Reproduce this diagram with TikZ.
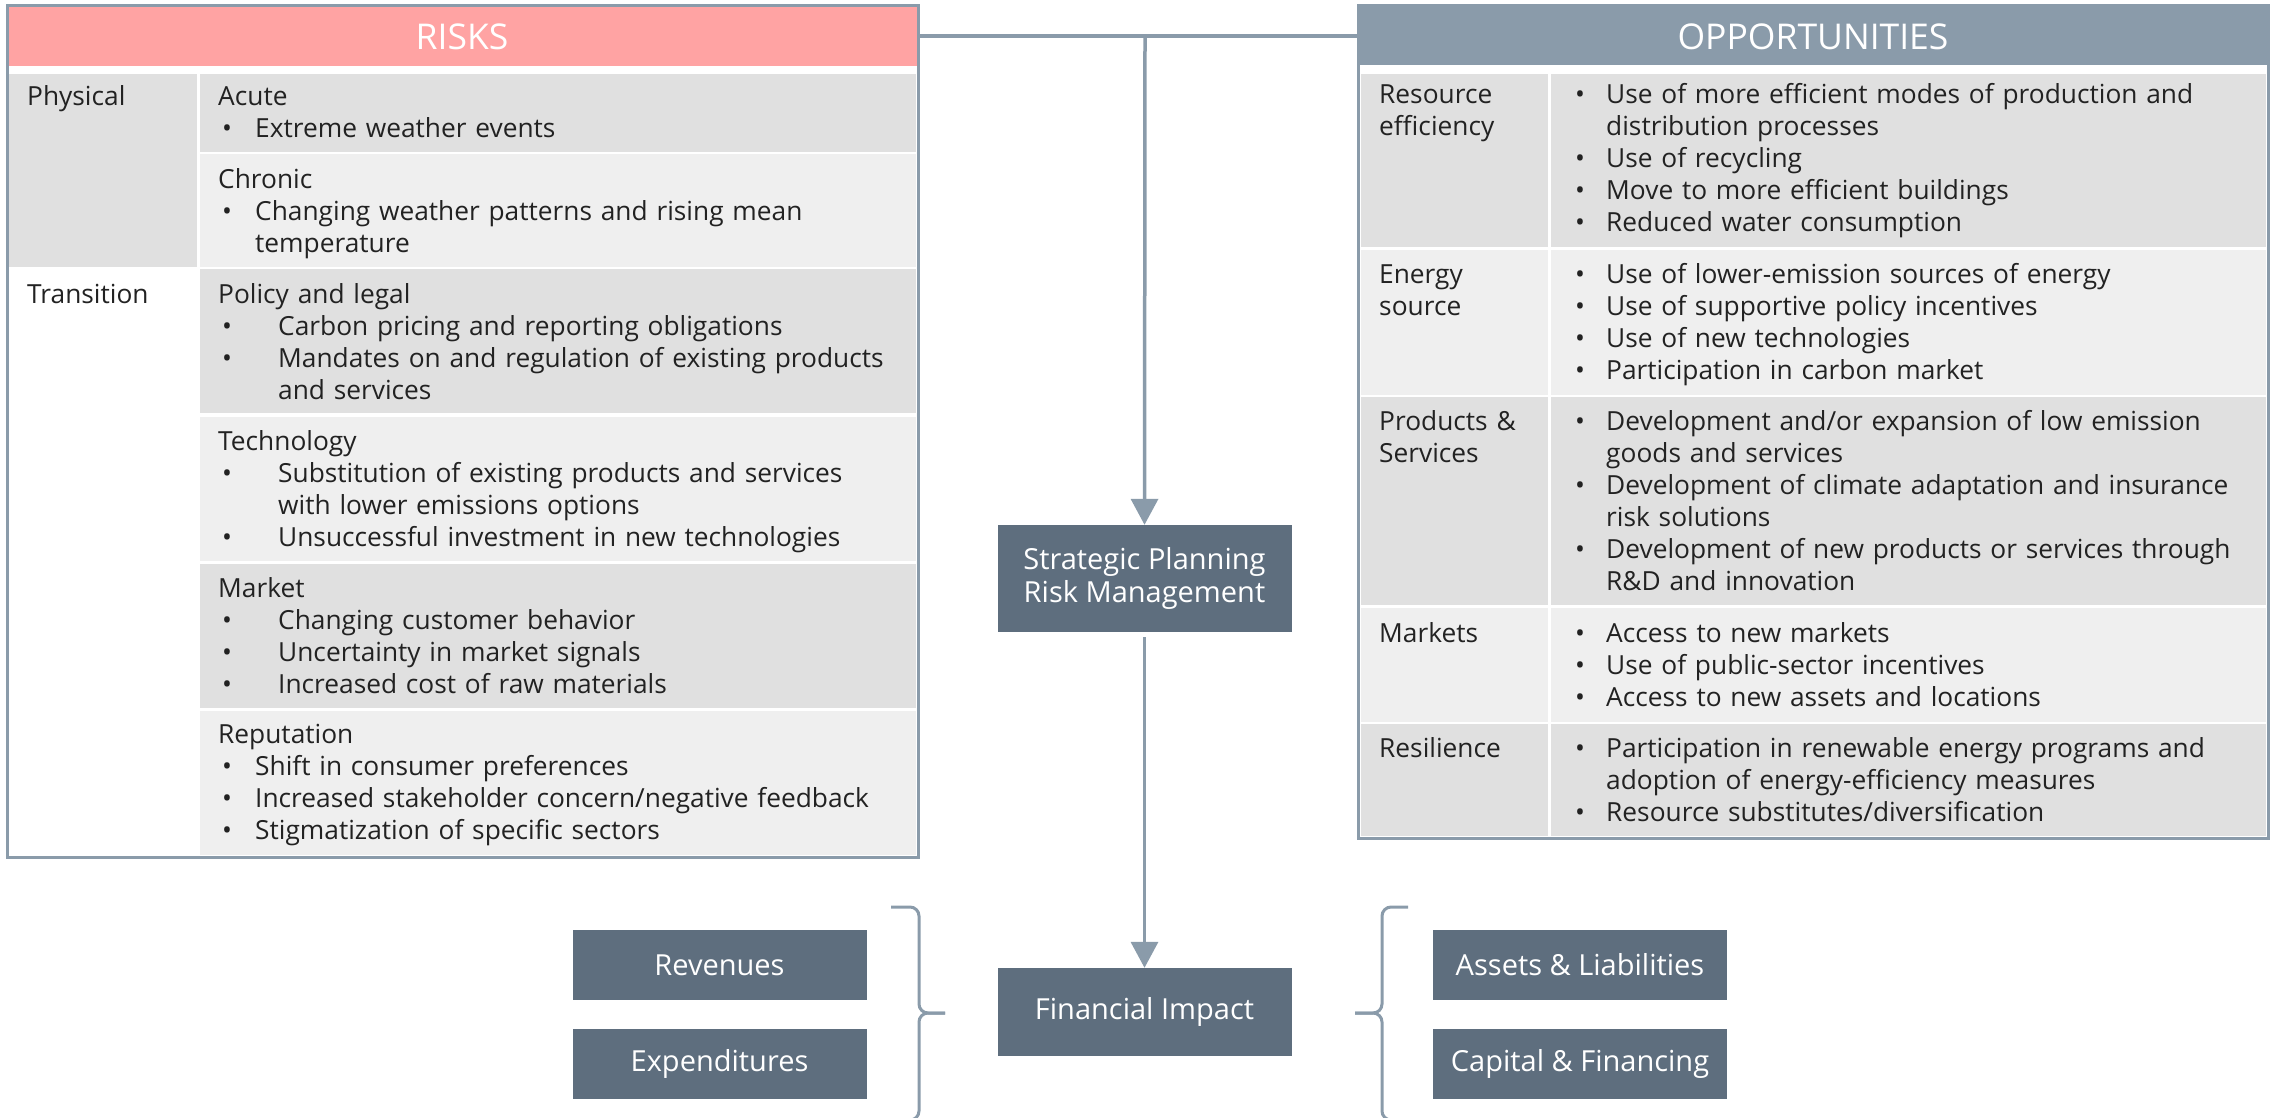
\documentclass[tikz,border=0pt]{standalone}
\usepackage{fontspec}
\setmainfont{Open Sans}
\usetikzlibrary{arrows.meta}

\definecolor{riskpink}{HTML}{FFA3A3}
\definecolor{oppblue}{HTML}{8A9BAA}
\definecolor{slate}{HTML}{5E6E7E}
\definecolor{celldark}{HTML}{E0E0E0}
\definecolor{celllight}{HTML}{EFEFEF}
\definecolor{txt}{HTML}{222222}

\setlength{\parindent}{0pt}
\newcommand{\bul}[2][37pt]{\hangindent=#1\hangafter=1\makebox[#1][l]{\hspace{4pt}\textbullet}#2\par}
\newcommand{\itm}[2][37pt]{\par\noindent\bul[#1]{#2}}

\tikzset{
	cell/.style={anchor=base west, inner sep=0pt, text width=740pt, align=left, text=txt, font=\fontsize{26.3}{32}\selectfont},
	head/.style={text=white, inner sep=0pt, font=\fontsize{35.5}{40}\selectfont},
	frame/.style={draw=oppblue, line width=3pt, inner sep=0pt},
	box/.style={fill=slate, text=white, inner sep=0pt, minimum width=294pt, minimum height=70pt, align=center, font=\fontsize{29}{33}\selectfont},
	conn/.style={draw=oppblue, line width=3.5pt},
	curly/.style={draw=oppblue, line width=3pt, rounded corners=9pt}
}

\begin{document}
\begin{tikzpicture}[x=1pt, y=-1pt]
	\useasboundingbox (0,0) rectangle (2272,1117);
	
	% Risks table
	\fill[riskpink] (7,5) rectangle (918,66);
	\fill[celldark] (9,74) rectangle (197,267);
	\fill[celldark] (200,74) rectangle (916,152);
	\fill[celllight] (200,154) rectangle (916,267);
	\fill[celldark] (200,269) rectangle (916,413);
	\fill[celllight] (200,417) rectangle (916,561);
	\fill[celldark] (200,564) rectangle (916,708);
	\fill[celllight] (200,711) rectangle (916,855);
	\node[frame, minimum width=911pt, minimum height=852pt] (riskbox) at (462.5,431) {};
	\node[head] (risks) at (462,37) {RISKS};
	
	\node[cell] (physical) at (27,105) {Physical};
	\node[cell] (transition) at (27,303) {Transition};
	\node[cell] (acute) at (218,105) {Acute\itm{Extreme weather events}};
	\node[cell] (chronic) at (218,188) {Chronic\itm{Changing weather patterns and rising mean\newline temperature}};
	\node[cell] (policy) at (218,303) {Policy and legal\itm[60pt]{Carbon pricing and reporting obligations}\itm[60pt]{Mandates on and regulation of existing products\newline and services}};
	\node[cell] (tech) at (218,450) {Technology\itm[60pt]{Substitution of existing products and services\newline with lower emissions options}\itm[60pt]{Unsuccessful investment in new technologies}};
	\node[cell] (market) at (218,597) {Market\itm[60pt]{Changing customer behavior}\itm[60pt]{Uncertainty in market signals}\itm[60pt]{Increased cost of raw materials}};
	\node[cell] (reput) at (218,743) {Reputation\itm{Shift in consumer preferences}\itm{Increased stakeholder concern/negative feedback}\itm{Stigmatization of specific sectors}};
	
	% Opportunities table
	\fill[oppblue] (1358,5) rectangle (2268,65);
	\fill[celldark] (1361,74) rectangle (1548,247);
	\fill[celldark] (1551,74) rectangle (2266,247);
	\fill[celllight] (1361,250) rectangle (1548,395);
	\fill[celllight] (1551,250) rectangle (2266,395);
	\fill[celldark] (1361,397) rectangle (1548,605);
	\fill[celldark] (1551,397) rectangle (2266,605);
	\fill[celllight] (1361,608) rectangle (1548,722);
	\fill[celllight] (1551,608) rectangle (2266,722);
	\fill[celldark] (1361,724) rectangle (1548,836);
	\fill[celldark] (1551,724) rectangle (2266,836);
	\node[frame, minimum width=910pt, minimum height=833pt] (oppbox) at (1813,421.5) {};
	\node[head] (opps) at (1813,37) {OPPORTUNITIES};
	
	\node[cell] (resource) at (1379,103) {Resource\\efficiency};
	\node[cell] (energy) at (1379,283) {Energy\\source};
	\node[cell] (products) at (1379,430) {Products \&\\Services};
	\node[cell] (markets) at (1379,642) {Markets};
	\node[cell] (resil) at (1379,757) {Resilience};
	\node[cell] (resourceitems) at (1571,103) {\bul[35pt]{Use of more efficient modes of production and\newline distribution processes}\itm[35pt]{Use of recycling}\itm[35pt]{Move to more efficient buildings}\itm[35pt]{Reduced water consumption}};
	\node[cell] (energyitems) at (1571,283) {\bul[35pt]{Use of lower-emission sources of energy}\itm[35pt]{Use of supportive policy incentives}\itm[35pt]{Use of new technologies}\itm[35pt]{Participation in carbon market}};
	\node[cell] (productitems) at (1571,430) {\bul[35pt]{Development and/or expansion of low emission\newline goods and services}\itm[35pt]{Development of climate adaptation and insurance\newline risk solutions}\itm[35pt]{Development of new products or services through\newline R\&D and innovation}};
	\node[cell] (marketitems) at (1571,642) {\bul[35pt]{Access to new markets}\itm[35pt]{Use of public-sector incentives}\itm[35pt]{Access to new assets and locations}};
	\node[cell] (resilitems) at (1571,757) {\bul[35pt]{Participation in renewable energy programs and\newline adoption of energy-efficiency measures}\itm[35pt]{Resource substitutes/diversification}};
	
	% Centre boxes
	\node[box, minimum height=107pt] (plan) at (1144.5,578.5) {Strategic Planning\\Risk Management};
	\node[box, minimum height=88pt] (impact) at (1144.5,1012) {Financial Impact};
	\node[box] (rev) at (719.5,965) {Revenues};
	\node[box] (expend) at (719.5,1064) {Expenditures};
	\node[box] (assets) at (1580,965) {Assets \& Liabilities};
	\node[box] (capital) at (1580,1064) {Capital \& Financing};
	
	% Connectors
	\coordinate (top) at (1145,36);
	\draw[conn] (riskbox.east |- top) -- (oppbox.west |- top);
	\draw[conn, -{Triangle[width=27pt,length=26pt]}] (top) -- (plan.north);
	\draw[conn, -{Triangle[width=27pt,length=26pt]}, shorten <=5pt] (plan.south) -- (impact.north);
	
	% Braces
	\draw[curly] (891,907) -- (919,907) -- (919,1013) -- (945,1013);
	\draw[curly] (945,1013) -- (919,1013) -- (919,1120) -- (891,1120);
	\draw[curly] (1408,907) -- (1382,907) -- (1382,1013) -- (1355,1013);
	\draw[curly] (1355,1013) -- (1382,1013) -- (1382,1120) -- (1408,1120);
\end{tikzpicture}
\end{document}
